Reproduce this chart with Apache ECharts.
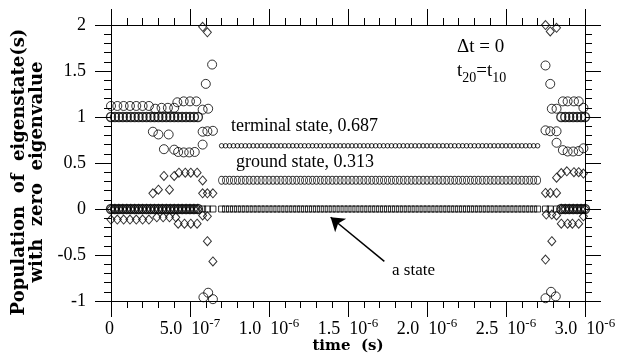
<!DOCTYPE html>
<html>
<head>
<meta charset="utf-8">
<script src="https://cdn.jsdelivr.net/npm/echarts@6/dist/echarts.min.js"></script>
<style>
  html, body { margin: 0; padding: 0; background: #fff; }
  #container { width: 624px; height: 353px; }
</style>
</head>
<body>
<div id="container"></div>
<script>
// time values are in units of 1e-6 s
var xTickMant = ['0', '5.0', '1.0', '1.5', '2.0', '2.5', '3.0'];
var xTickExp = ['', '-7', '-6', '-6', '-6', '-6', '-6'];

// sampling times of the densely plotted rows
var leftDenseT = [0, 0.025, 0.05, 0.075, 0.1, 0.125, 0.15, 0.175, 0.2, 0.225, 0.25, 0.275,
  0.3, 0.325, 0.35, 0.375, 0.4, 0.425, 0.45, 0.475, 0.5, 0.525, 0.55];
var rightDenseT = [2.85, 2.875, 2.9, 2.925, 2.95, 2.975, 3.0];
var midT = [0.7, 0.725, 0.75, 0.775, 0.8, 0.825, 0.85, 0.875, 0.9, 0.925, 0.95, 0.975,
  1, 1.025, 1.05, 1.075, 1.1, 1.125, 1.15, 1.175, 1.2, 1.225, 1.25, 1.275, 1.3, 1.325,
  1.35, 1.375, 1.4, 1.425, 1.45, 1.475, 1.5, 1.525, 1.55, 1.575, 1.6, 1.625, 1.65, 1.675,
  1.7, 1.725, 1.75, 1.775, 1.8, 1.825, 1.85, 1.875, 1.9, 1.925, 1.95, 1.975, 2, 2.025,
  2.05, 2.075, 2.1, 2.125, 2.15, 2.175, 2.2, 2.225, 2.25, 2.275, 2.3, 2.325, 2.35, 2.375,
  2.4, 2.425, 2.45, 2.475, 2.5, 2.525, 2.55, 2.575, 2.6, 2.625, 2.65, 2.675, 2.7];

var terminalLevel = 0.687;
var groundLevel = 0.313;
var upperLevel = 1.0;
var zeroLevel = 0;

// loose points, [time, population]
var circlePts = [
  [0, 1.12], [0.04, 1.12], [0.08, 1.12], [0.12, 1.12], [0.16, 1.12], [0.2, 1.12], [0.24, 1.12],
  [0.28, 1.09], [0.32, 1.1], [0.36, 1.1], [0.4, 1.1],
  [0.42, 1.16], [0.46, 1.17], [0.5, 1.17], [0.54, 1.17],
  [0.265, 0.84], [0.3, 0.81], [0.365, 0.81],
  [0.335, 0.65], [0.4, 0.645], [0.425, 0.62], [0.46, 0.615], [0.495, 0.615], [0.53, 0.62],
  [0.58, 0.7], [0.58, 0.84], [0.61, 0.845], [0.645, 0.85], [0.58, 1.08], [0.615, 1.09],
  [0.6, 1.36], [0.64, 1.57], [0.585, -0.96], [0.615, -0.91], [0.645, -0.98],
  [2.75, 1.56], [2.78, 1.36], [2.75, 0.855], [2.78, 0.845], [2.82, 0.845],
  [2.79, 1.09], [2.82, 1.09], [2.82, 0.72],
  [2.86, 1.17], [2.89, 1.17], [2.93, 1.17], [2.96, 1.17], [2.99, 1.1],
  [2.86, 0.64], [2.89, 0.625], [2.925, 0.625], [2.96, 0.63], [2.99, 0.66],
  [2.75, -0.97], [2.785, -0.9], [2.815, -0.95]
];
var diamondPts = [
  [0, -0.115], [0.04, -0.115], [0.08, -0.115], [0.12, -0.115], [0.16, -0.115], [0.2, -0.115], [0.24, -0.115],
  [0.29, -0.09], [0.33, -0.09], [0.37, -0.09], [0.41, -0.09],
  [0.425, -0.16], [0.465, -0.16], [0.505, -0.16], [0.545, -0.16],
  [0.265, 0.17], [0.3, 0.21], [0.335, 0.36], [0.37, 0.21], [0.4, 0.36],
  [0.43, 0.395], [0.47, 0.395], [0.505, 0.395], [0.545, 0.395],
  [0.58, 0.31], [0.58, 0.17], [0.61, 0.17], [0.645, 0.17], [0.58, -0.07], [0.61, -0.08],
  [0.61, -0.35], [0.645, -0.57], [0.58, 1.98], [0.61, 1.92],
  [2.75, 2.0], [2.78, 1.93], [2.82, 1.97],
  [2.75, 0.175], [2.78, 0.175], [2.82, 0.175],
  [2.82, 0.34], [2.85, 0.39], [2.885, 0.41], [2.93, 0.4], [2.96, 0.4], [2.99, 0.385],
  [2.755, -0.06], [2.79, -0.06], [2.82, -0.07],
  [2.85, -0.16], [2.89, -0.16], [2.92, -0.16], [2.96, -0.16], [2.99, -0.08],
  [2.79, -0.35], [2.75, -0.55]
];
var squarePts = [[0.58, 0], [0.61, 0], [0.645, 0], [2.75, 0], [2.78, 0], [2.82, 0]];

var yTitle = 'Population  of  eigenstate(s)\nwith  zero  eigenvalue';
var labelTerminal = 'terminal state, 0.687';
var labelGround = 'ground state, 0.313';
var labelA = 'a state';
var arrowFrom = [1.73, -0.57];
var arrowTo = [1.39, -0.09];

function row(times, level) {
  var res = [];
  for (var i = 0; i < times.length; i++) res.push([times[i], level]);
  return res;
}

var serif = '"Liberation Serif", "Times New Roman", serif';
var hollow = { color: 'transparent', borderColor: '#000', borderWidth: 1 };
var hollowHeavy = { color: 'transparent', borderColor: '#000', borderWidth: 1.4 };

var chart = echarts.init(document.getElementById('container'), null, { renderer: 'canvas' });

var xCommon = {
  type: 'value', min: 0, max: 3, interval: 0.5,
  axisLine: { show: true, onZero: false, lineStyle: { color: '#000', width: 1 } },
  axisTick: { show: true, inside: false, length: 16, lineStyle: { color: '#000' } },
  minorTick: { show: true, splitNumber: 5, length: 7, lineStyle: { color: '#000' } },
  splitLine: { show: false }, minorSplitLine: { show: false }
};
var yCommon = {
  type: 'value', min: -1, max: 2, interval: 0.5,
  axisLine: { show: true, onZero: false, lineStyle: { color: '#000', width: 1 } },
  axisTick: { show: true, inside: false, length: 16, lineStyle: { color: '#000' } },
  minorTick: { show: true, splitNumber: 5, length: 7, lineStyle: { color: '#000' } },
  splitLine: { show: false }, minorSplitLine: { show: false }
};

var option = {
  animation: false,
  backgroundColor: '#fff',
  grid: { left: 111, right: 39, top: 25, bottom: 52, containLabel: false, outerBoundsMode: 'none' },
  xAxis: [
    Object.assign({}, xCommon, {
      position: 'bottom',
      name: 'time  (s)', nameLocation: 'middle', nameGap: 38, nameMoveOverlap: false,
      nameTextStyle: { fontFamily: '"DejaVu Serif", serif', fontWeight: 'bold', fontSize: 15, color: '#000' },
      axisLabel: {
        margin: 19,
        formatter: function (v, i) {
          return '{n|' + xTickMant[i] + (xTickExp[i] ? '  10' : '') + '}{s|' + (xTickExp[i] || ' ') + '}';
        },
        rich: {
          n: { fontFamily: serif, fontSize: 18, lineHeight: 18, color: '#000', verticalAlign: 'bottom' },
          s: { fontFamily: serif, fontSize: 13, lineHeight: 13, color: '#000', padding: [0, 0, 8, 0], verticalAlign: 'bottom' }
        }
      }
    }),
    Object.assign({}, xCommon, { position: 'top', axisLabel: { show: false } })
  ],
  yAxis: [
    Object.assign({}, yCommon, {
      position: 'left',
      axisLabel: { margin: 25, fontFamily: serif, fontSize: 18, color: '#000' }
    }),
    Object.assign({}, yCommon, { position: 'right', axisLabel: { show: false } })
  ],
  graphic: [
    {
      type: 'text', x: 28, y: 172, rotation: Math.PI / 2,
      style: {
        text: yTitle, fill: '#000', align: 'center', verticalAlign: 'middle',
        font: 'bold 18px "DejaVu Serif", serif', lineHeight: 18
      }
    },
    { type: 'text', left: 457, top: 38, style: { text: '\u0394t = 0', font: '19px ' + serif, fill: '#000' } },
    {
      type: 'text', left: 457, top: 62,
      style: {
        text: '{m|t}{s|20}{m|=t}{s|10}', fill: '#000',
        rich: {
          m: { fontFamily: serif, fontSize: 19, lineHeight: 19, verticalAlign: 'top' },
          s: { fontFamily: serif, fontSize: 14, lineHeight: 14, padding: [9, 0, 0, 0], verticalAlign: 'top' }
        }
      }
    },
    { type: 'text', left: 231, top: 117, style: { text: labelTerminal, font: '18px ' + serif, fill: '#000' } },
    { type: 'text', left: 236, top: 153, style: { text: labelGround, font: '18px ' + serif, fill: '#000' } },
    { type: 'text', left: 392, top: 262, style: { text: labelA, font: '17px ' + serif, fill: '#000' } }
  ],
  series: [
    {
      name: 'circles', type: 'scatter', clip: false, symbol: 'circle', symbolSize: 9,
      itemStyle: hollow,
      data: circlePts,
      markLine: {
        silent: true, animation: false,
        symbol: ['none', 'arrow'], symbolSize: 13,
        label: { show: false },
        emphasis: { disabled: true },
        lineStyle: { color: '#000', width: 1.5, type: 'solid' },
        data: [[{ coord: arrowFrom }, { coord: arrowTo }]]
      }
    },
    {
      name: 'dense circles', type: 'scatter', clip: false, symbol: 'circle', symbolSize: 9,
      itemStyle: hollowHeavy,
      data: row(leftDenseT, upperLevel).concat(row(rightDenseT, upperLevel),
        row(leftDenseT, zeroLevel), row(rightDenseT, zeroLevel))
    },
    {
      name: 'diamonds', type: 'scatter', clip: false, symbol: 'diamond', symbolSize: [8, 9],
      itemStyle: hollow,
      data: diamondPts.concat(row(leftDenseT, zeroLevel), row(rightDenseT, zeroLevel))
    },
    {
      name: 'squares', type: 'scatter', clip: false, symbol: 'rect', symbolSize: 6,
      itemStyle: hollow,
      data: squarePts.concat(row(midT, zeroLevel))
    },
    {
      name: 'terminal', type: 'scatter', clip: false, symbol: 'circle', symbolSize: 4.5,
      itemStyle: hollow,
      data: row(midT, terminalLevel)
    },
    {
      name: 'ground', type: 'scatter', clip: false, symbol: 'circle', symbolSize: [6, 8],
      itemStyle: hollow,
      data: row(midT, groundLevel)
    }
  ]
};
chart.setOption(option);
</script>
</body>
</html>
